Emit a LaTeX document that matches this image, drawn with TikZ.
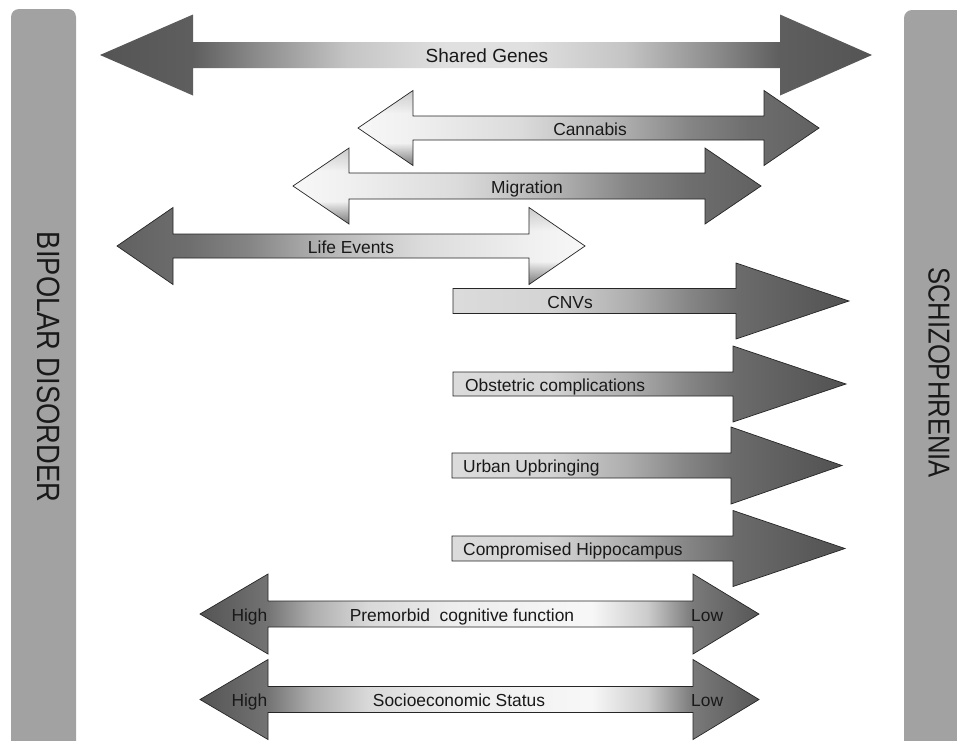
\documentclass[tikz,border=0pt]{standalone}
\usepackage{fontspec}
\setmainfont{Liberation Sans}
\usetikzlibrary{fadings}

\definecolor{barg}{gray}{0.635}
\definecolor{txt}{gray}{0.1}

\pgfdeclarehorizontalshading{sgshade}{100bp}{rgb(0bp)=(0.33,0.33,0.33); rgb(25bp)=(0.33,0.33,0.33); rgb(31bp)=(0.37,0.37,0.37); rgb(35bp)=(0.54,0.54,0.54); rgb(41bp)=(0.77,0.77,0.77); rgb(47.5bp)=(0.88,0.88,0.88); rgb(52.5bp)=(0.88,0.88,0.88); rgb(59bp)=(0.77,0.77,0.77); rgb(65bp)=(0.54,0.54,0.54); rgb(69bp)=(0.37,0.37,0.37); rgb(75bp)=(0.33,0.33,0.33); rgb(100bp)=(0.33,0.33,0.33)}
\pgfdeclarehorizontalshading{ldshade}{100bp}{rgb(0bp)=(0.97,0.97,0.97); rgb(25bp)=(0.97,0.97,0.97); rgb(31bp)=(0.94,0.94,0.94); rgb(42.5bp)=(0.86,0.86,0.86); rgb(52.5bp)=(0.71,0.71,0.71); rgb(61bp)=(0.52,0.52,0.52); rgb(67.5bp)=(0.43,0.43,0.43); rgb(75bp)=(0.38,0.38,0.38); rgb(100bp)=(0.38,0.38,0.38)}
\pgfdeclarehorizontalshading{dlshade}{100bp}{rgb(0bp)=(0.38,0.38,0.38); rgb(25bp)=(0.38,0.38,0.38); rgb(32.5bp)=(0.43,0.43,0.43); rgb(39bp)=(0.52,0.52,0.52); rgb(47.5bp)=(0.71,0.71,0.71); rgb(57.5bp)=(0.86,0.86,0.86); rgb(69bp)=(0.94,0.94,0.94); rgb(75bp)=(0.97,0.97,0.97); rgb(100bp)=(0.97,0.97,0.97)}
\pgfdeclarehorizontalshading{sshade}{100bp}{rgb(0bp)=(0.86,0.86,0.86); rgb(25bp)=(0.86,0.86,0.86); rgb(37.5bp)=(0.83,0.83,0.83); rgb(47.5bp)=(0.68,0.68,0.68); rgb(55bp)=(0.52,0.52,0.52); rgb(61bp)=(0.42,0.42,0.42); rgb(75bp)=(0.32,0.32,0.32); rgb(100bp)=(0.32,0.32,0.32)}
\pgfdeclarehorizontalshading{hlshade}{100bp}{rgb(0bp)=(0.33,0.33,0.33); rgb(25bp)=(0.33,0.33,0.33); rgb(31bp)=(0.45,0.45,0.45); rgb(35bp)=(0.68,0.68,0.68); rgb(40bp)=(0.85,0.85,0.85); rgb(47.5bp)=(0.93,0.93,0.93); rgb(60bp)=(0.97,0.97,0.97); rgb(65bp)=(0.80,0.80,0.80); rgb(69bp)=(0.48,0.48,0.48); rgb(75bp)=(0.34,0.34,0.34); rgb(100bp)=(0.34,0.34,0.34)}

% vertical fading: opaque at the bottom, clear in the middle, slight at the top
\pgfdeclareverticalshading{bevsh}{100bp}{rgb(0bp)=(1,1,1); rgb(25bp)=(1,1,1); rgb(40bp)=(0,0,0); rgb(60bp)=(0,0,0); rgb(75bp)=(0.3,0.3,0.3); rgb(100bp)=(0.3,0.3,0.3)}
\pgfdeclarefading{botdark}{\pgfuseshading{bevsh}}

% double arrow: left tip x, right tip x, left head base, right head base, centre y, head half height, shaft half height, style
\newcommand\dbla[8]{\path[#8] (#1,#5) -- (#3,{#5-#6}) -- (#3,{#5-#7}) -- (#4,{#5-#7}) -- (#4,{#5-#6}) -- (#2,#5) -- (#4,{#5+#6}) -- (#4,{#5+#7}) -- (#3,{#5+#7}) -- (#3,{#5+#6}) -- cycle;}
% single arrow: shaft start x, head base x, tip x, centre y, head half height, shaft half height, style
\newcommand\sgla[7]{\path[#7] (#1,{#4-#6}) -- (#2,{#4-#6}) -- (#2,{#4-#5}) -- (#3,#4) -- (#2,{#4+#5}) -- (#2,{#4+#6}) -- (#1,{#4+#6}) -- cycle;}

\begin{document}
\begin{tikzpicture}[x=1pt, y=-1pt,
  arr/.style={draw=black!85, line width=0.7pt, line join=miter},
  outl/.style={draw=black!85, line width=0.7pt, line join=miter},
  lbl/.style={font=\fontsize{17.4}{20}\selectfont, inner sep=0pt, text height=12.4pt, text depth=0pt, text=txt},
  bigl/.style={font=\fontsize{19}{22}\selectfont, inner sep=0pt, text height=13.6pt, text depth=0pt, text=txt},
  side/.style={inner sep=0pt, text=txt, rotate=-90},
  bar/.style={fill=barg, rounded corners=8pt},
  bevel/.style={fill=black, fill opacity=0.5, path fading=botdark}]
\useasboundingbox (0,0) rectangle (957,740);
\fill[white] (0,0) rectangle (957,740);

% side bars
\path[bar] (11,770) -- (11,9) -- (76,9) -- (76,770) -- cycle;
\path[bar] (904,770) -- (904,10) -- (980,10) -- (980,770) -- cycle;
\node[side, font=\fontsize{27.3}{30}\selectfont] (bip) at (49,367) {\scalebox{1}[1.18]{BIPOLAR DISORDER}};
\node[side, font=\fontsize{25.6}{30}\selectfont] (scz) at (939,372.5) {\scalebox{1}[1.18]{SCHIZOPHRENIA}};

% shared genes
\dbla{100}{872}{193}{780}{55}{40.5}{13}{shade, shading=sgshade}
\node[bigl] (sg) at (487,56) {Shared Genes};

% cannabis
\dbla{358}{819}{413}{764}{128}{37.5}{12}{shade, shading=ldshade}
\begin{scope}
  \clip (350,85) rectangle (413.5,170);
  \dbla{358}{819}{413}{764}{128}{37.5}{12}{bevel}
\end{scope}
\dbla{358}{819}{413}{764}{128}{37.5}{12}{outl}
\node[lbl] (can) at (590,129) {Cannabis};

% migration
\dbla{293}{761}{349}{705}{186}{38}{13}{shade, shading=ldshade}
\begin{scope}
  \clip (285,140) rectangle (349.5,230);
  \dbla{293}{761}{349}{705}{186}{38}{13}{bevel}
\end{scope}
\dbla{293}{761}{349}{705}{186}{38}{13}{outl}
\node[lbl] (mig) at (527,187) {Migration};

% life events
\dbla{117}{585}{173}{529}{246}{38.5}{12}{shade, shading=dlshade}
\begin{scope}
  \clip (528.5,200) rectangle (595,292);
  \dbla{117}{585}{173}{529}{246}{38.5}{12}{bevel}
\end{scope}
\dbla{117}{585}{173}{529}{246}{38.5}{12}{outl}
\node[lbl] (life) at (351,247) {Life Events};

% single arrows
\sgla{453}{736}{849}{301}{38}{12.5}{arr, shade, shading=sshade}
\node[lbl] (cnv) at (570,302) {CNVs};
\sgla{453}{733}{846}{384}{38}{12}{arr, shade, shading=sshade}
\node[lbl, anchor=west] (obs) at (465,385) {Obstetric complications};
\sgla{452}{731}{842}{465.5}{38.5}{12.5}{arr, shade, shading=sshade}
\node[lbl, anchor=west] (urb) at (463,466.5) {Urban Upbringing};
\sgla{452}{733}{845}{548.5}{38}{12.5}{arr, shade, shading=sshade}
\node[lbl, anchor=west] (hip) at (463,549.5) {Compromised Hippocampus};

% premorbid
\dbla{200}{759}{268}{693}{614}{40}{13}{arr, shade, shading=hlshade}
\node[lbl, anchor=east] (preH) at (267.5,615) {High};
\node[lbl] (pre) at (462,615) {Premorbid~~cognitive function};
\node[lbl, anchor=west] (preL) at (691,615) {Low};

% socioeconomic
\dbla{200}{759}{268}{693}{699.5}{40}{13}{arr, shade, shading=hlshade}
\node[lbl, anchor=east] (sesH) at (267.5,700.5) {High};
\node[lbl] (ses) at (459,700.5) {Socioeconomic Status};
\node[lbl, anchor=west] (sesL) at (691,700.5) {Low};
\end{tikzpicture}
\end{document}
